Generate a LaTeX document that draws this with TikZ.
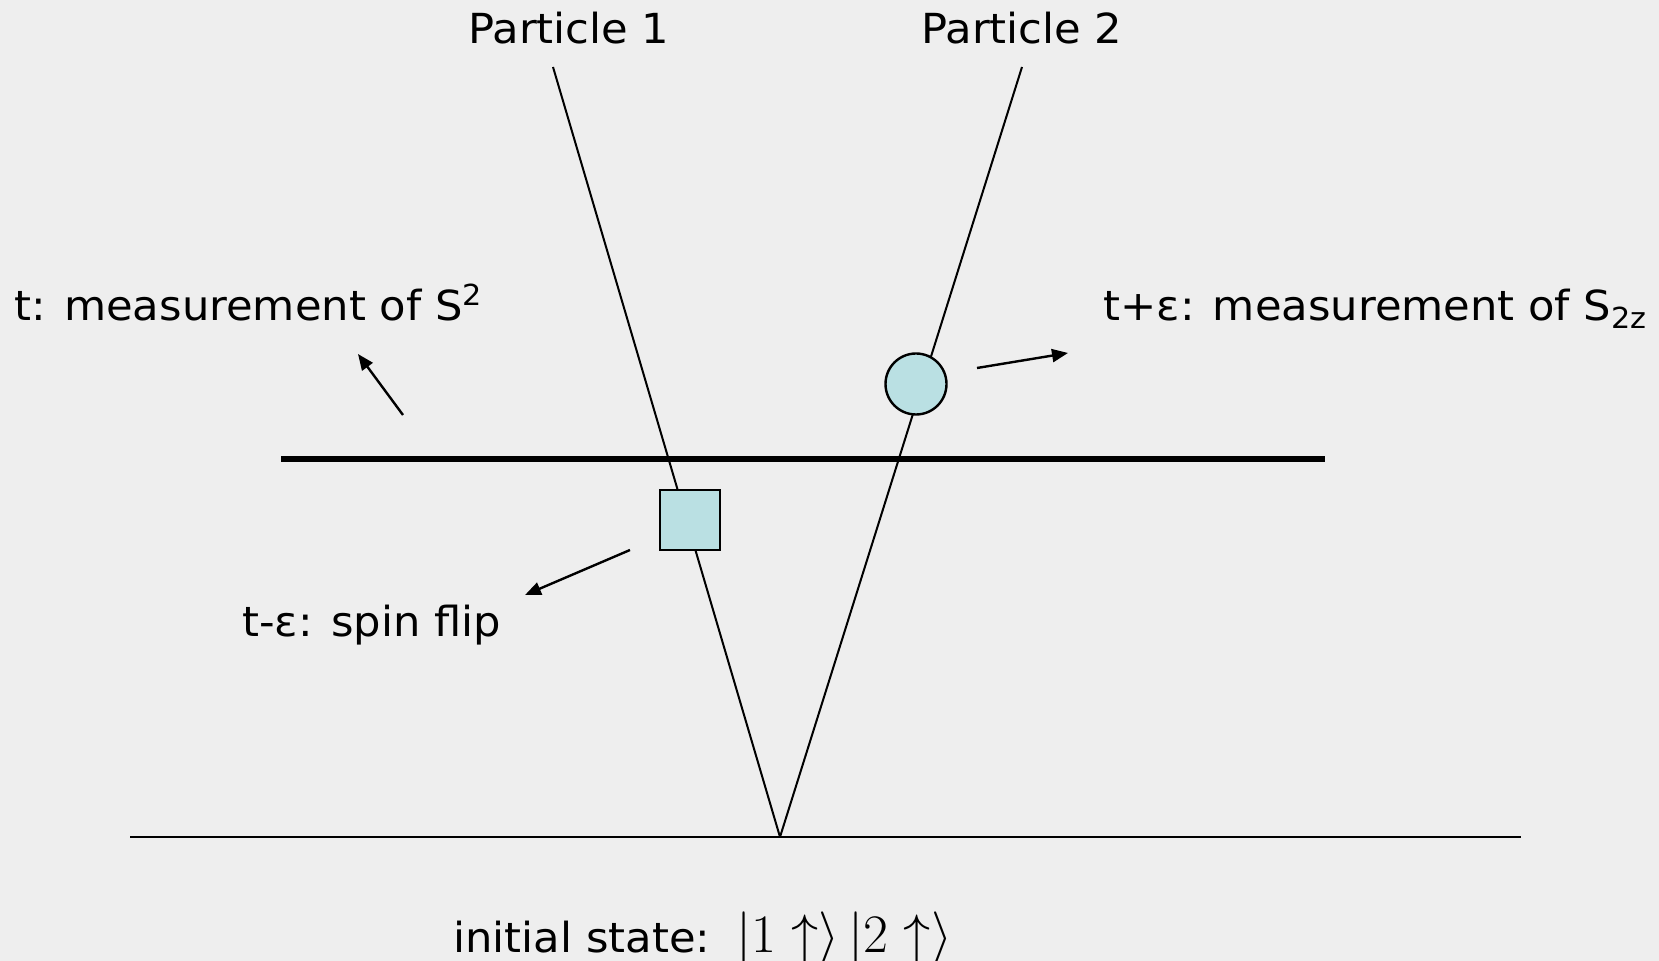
\documentclass[tikz,border=0pt]{standalone}
\usepackage{fontspec}
\setmainfont[FakeStretch=1.045]{DejaVu Sans}
\usepackage{graphicx}
\usepackage{xcolor}
\usetikzlibrary{arrows.meta,positioning}
\definecolor{paper}{HTML}{EEEEEE}
\definecolor{eventfill}{HTML}{BAE0E3}

\begin{document}
\begin{tikzpicture}[
  x=0.5pt,y=-0.5pt,
  lbl/.style={font=\fontsize{20.7}{24}\selectfont,inner sep=0pt,anchor=base west},
  worldline/.style={line width=1pt},
  flipbox/.style={rectangle,draw,line width=1.2pt,fill=eventfill,minimum size=30pt,inner sep=0pt},
  measdot/.style={circle,draw,line width=1.2pt,fill=eventfill,minimum size=30.5pt,inner sep=0pt},
  arr/.style={line width=1.2pt,-{Triangle[length=8pt,width=6.5pt]}}
]
\fill[paper] (0,0) rectangle (1659,961);
\useasboundingbox (0,0) rectangle (1659,961);

% time axis and the hypersurface of time t
\coordinate (axisL) at (130,837);
\coordinate (axisR) at (1521,837);
\coordinate (sliceL) at (281,459);
\coordinate (sliceR) at (1325,459);
\draw[line width=1pt] (axisL) -- (axisR);
\draw[line width=2.6pt] (sliceL) -- (sliceR);

% world lines
\coordinate (origin) at (780,837);
\coordinate (end1) at (553,67);
\coordinate (end2) at (1022,67);
\draw[worldline] (origin) -- (end1);
\draw[worldline] (origin) -- (end2);

% events
\node[flipbox] (flip) at (690,520) {};
\node[measdot] (meas) at (916,384) {};

% labels
\node[lbl] (p1) at (468,44) {Particle 1};
\node[lbl] (p2) at (921,44) {Particle 2};
\node[lbl] (tmeas) at (14,321) {t: measurement of S\textsuperscript{2}};
\node[lbl] (tpmeas) at (1103,321) {t+ε: measurement of S\textsubscript{2z}};
\node[lbl] (tflip) at (242,637) {t-ε: spin flip};
\node[lbl] (init) at (453,952) {initial state:\hspace{4pt} \scalebox{1.09}{\fontsize{29.5}{32}\selectfont$|1\uparrow\rangle\,|2\uparrow\rangle$}};

% pointers
\coordinate (a1) at (403,415);
\coordinate (b1) at (358,354);
\coordinate (a2) at (977,368);
\coordinate (b2) at (1068,353);
\coordinate (a3) at (630,550);
\coordinate (b3) at (525,595);
\draw[arr] (a1) -- (b1);
\draw[arr] (a2) -- (b2);
\draw[arr] (a3) -- (b3);
\end{tikzpicture}
\end{document}
